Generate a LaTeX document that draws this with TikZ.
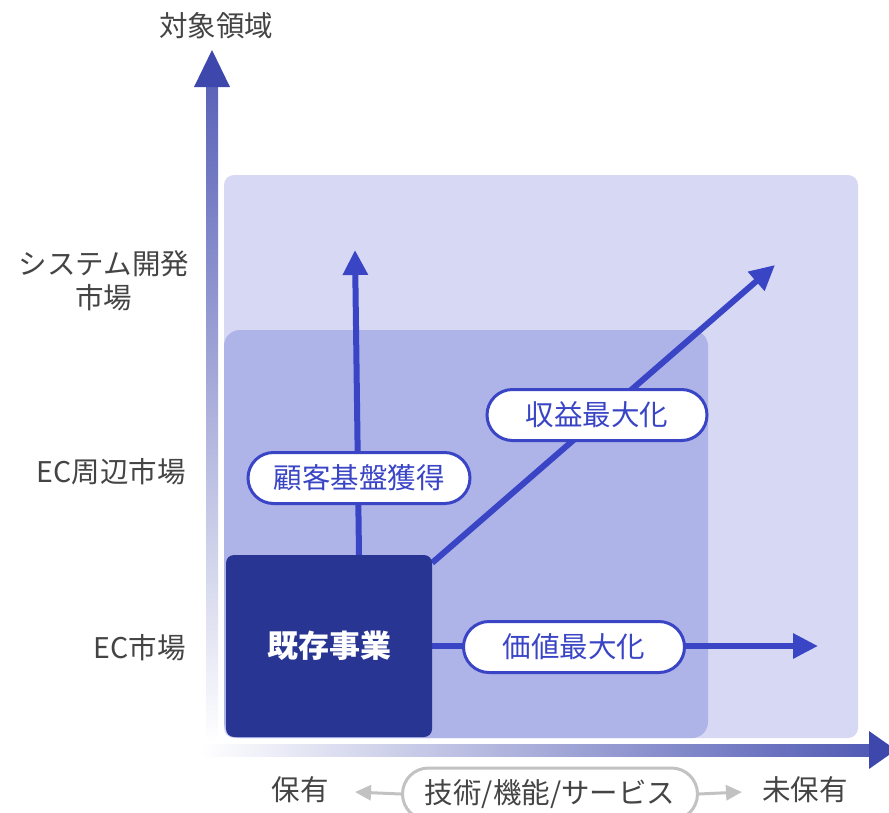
\documentclass[tikz,border=0pt]{standalone}
\usepackage{fontspec}
\setmainfont{Noto Sans CJK JP}
\usetikzlibrary{arrows.meta,shapes.misc,calc}
\definecolor{outerreg}{HTML}{D7D8F3}
\definecolor{midreg}{HTML}{AEB3E8}
\definecolor{darkbox}{HTML}{283593}
\definecolor{connblue}{HTML}{3A45C6}
\definecolor{axisblue}{HTML}{3E48AC}
\definecolor{labgray}{HTML}{444444}
\definecolor{lightgray}{HTML}{C2C2C2}
\pgfdeclarelayer{back}
\pgfdeclarelayer{bg}
\pgfsetlayers{back,bg,main}
\tikzset{
  lab/.style={text=labgray,font=\fontsize{28.5}{34}\selectfont,inner sep=0pt},
  pill/.style={rounded rectangle,draw=connblue,line width=3pt,fill=white,text=connblue,
     font=\fontsize{28.5}{34}\selectfont,minimum height=51pt,inner sep=0pt},
  conn/.style={draw=connblue,line width=6pt,-{Triangle[length=25pt,width=24pt]}},
  grayarr/.style={draw=lightgray,line width=3pt,-{Triangle[length=16pt,width=15pt]}},
}
\begin{document}
\begin{tikzpicture}[x=1pt,y=-1pt]
\useasboundingbox (0,0) rectangle (889,812);
% regions
\begin{pgfonlayer}{back}
\fill[outerreg,rounded corners=10pt] (224,175) rectangle (858,738);
\fill[midreg,rounded corners=16pt] (224,330) rectangle (708,738);
% axes
\shade[top color=axisblue!85,bottom color=white] (206,86) rectangle (218,742);
\fill[axisblue] (194,87) -- (212,50) -- (230,87) -- cycle;
\shade[left color=white,right color=axisblue!90] (200,744) rectangle (872,756);
\fill[axisblue] (869,731) -- (896,750) -- (869,769) -- cycle;
\end{pgfonlayer}
% main box
\node[fill=darkbox,rounded corners=8pt,minimum width=206pt,minimum height=182pt,
  text=white,font=\fontsize{31}{37}\selectfont\bfseries,inner sep=0pt] (biz) at (329,646) {既存事業};
% pills
\node[pill,minimum width=222pt] (p1) at (359,478) {顧客基盤獲得};
\node[pill,minimum width=220pt] (p2) at (597,415) {収益最大化};
\node[pill,minimum width=221pt] (p3) at (574,647) {価値最大化};
% arrow tips
\coordinate (tA) at (355,250);
\coordinate (tB) at (775,265);
\coordinate (tC) at (818,646);
\begin{pgfonlayer}{bg}
\draw[conn] (biz.north -| p1) -- (tA);
\draw[conn] ($(biz.north east)+(0,8)$) -- (tB);
\draw[conn] (biz.east) -- (tC);
\end{pgfonlayer}
% axis labels
\node[lab] (ytitle) at (216,26) {対象領域};
\node[lab,align=center] (ysys) at (104,281) {システム開発\\市場};
\node[lab,anchor=east] (yecs) at (186,472) {EC周辺市場};
\node[lab,anchor=east] (yec) at (186,648) {EC市場};
% x labels
\node[rounded rectangle,draw=lightgray,line width=3pt,minimum width=295pt,minimum height=52pt,
  text=labgray,font=\fontsize{28.5}{34}\selectfont,inner sep=0pt] (tech) at (550,794) {技術/機能/サービス};
\node[lab] (own) at (300,790) {保有};
\node[lab] (nown) at (805,790) {未保有};
\coordinate (gl) at (355,792);
\coordinate (gr) at (742,792);
\draw[grayarr] (tech.west) -- (gl);
\draw[grayarr] (tech.east) -- (gr);
\end{tikzpicture}
\end{document}
